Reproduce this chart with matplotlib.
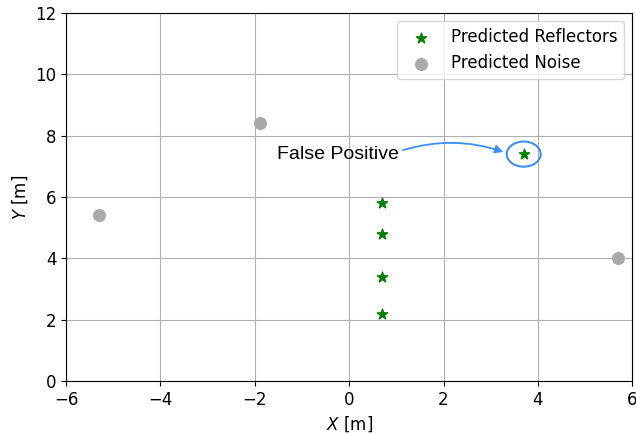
import matplotlib.pyplot as plt
from matplotlib.patches import Ellipse

# Predicted reflectors (stars) and noise (grey dots)
refl_x = [0.7, 0.7, 0.7, 0.7, 3.7]
refl_y = [5.8, 4.8, 3.4, 2.2, 7.4]
noise_x = [-5.3, -1.9, 5.7]
noise_y = [5.4, 8.4, 4.0]

fp_x, fp_y = 3.7, 7.4

plt.rcParams['font.size'] = 12

fig = plt.figure(figsize=(6.36, 4.34), dpi=100)
ax = fig.add_axes([0.104, 0.122, 0.89, 0.848])

ax.grid(True, color='#b0b0b0', linewidth=0.8)
ax.set_axisbelow(True)

ax.scatter(refl_x, refl_y, marker='*', s=60, color='green', label='Predicted Reflectors', zorder=3)
ax.scatter(noise_x, noise_y, marker='o', s=70, color='darkgray', label='Predicted Noise', zorder=3)

# circle the false positive
ax.add_patch(Ellipse((fp_x, fp_y), 0.72, 0.82, fill=False, edgecolor='#3d8ef5', linewidth=1.5, zorder=4))
ax.text(-1.53, fp_y, 'False Positive', fontsize=14, family='Liberation Sans', va='center', ha='left')
ax.annotate('', xy=(3.27, 7.47), xytext=(1.14, 7.53),
            arrowprops=dict(arrowstyle='-|>', color='#3d8ef5', lw=1.3,
                            connectionstyle='arc3,rad=-0.16', shrinkA=0, shrinkB=0))

ax.set_xlim(-6, 6)
ax.set_ylim(0, 12)
ax.set_xlabel('$X$ [m]')
ax.set_ylabel('$Y$ [m]')
ax.legend(loc='upper right')

fig.savefig('out.png', dpi=100)
